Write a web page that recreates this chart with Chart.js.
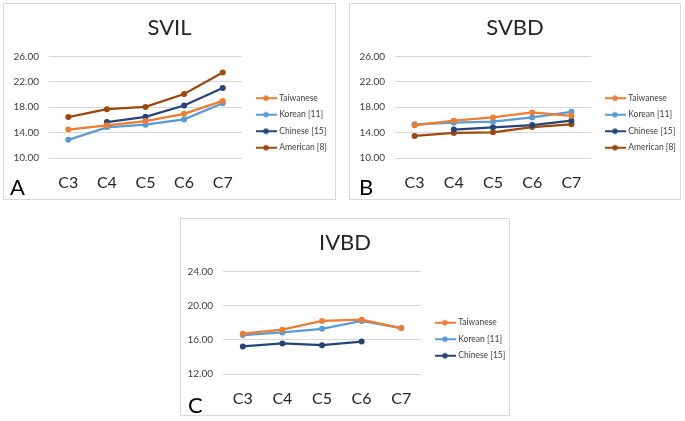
<!DOCTYPE html>
<html>
<head>
<meta charset="utf-8">
<script src="https://cdn.jsdelivr.net/npm/chart.js"></script>
<style>
  body { margin: 0; background: #fff; width: 685px; height: 421px; position: relative; overflow: hidden; }
  .panel { position: absolute; box-sizing: border-box; border: 1px solid #d9d9d9; background: #fff; }
  .panel canvas { display: block; }
  .tag { position: absolute; font-family: Lato, sans-serif; font-size: 22px; line-height: 1; color: #000; }
</style>
</head>
<body>
<div class="panel" style="left:3px;top:3px;width:333px;height:197px;"><canvas id="svil" width="331" height="195"></canvas></div>
<div class="panel" style="left:349px;top:3px;width:332px;height:197px;"><canvas id="svbd" width="330" height="195"></canvas></div>
<div class="panel" style="left:180px;top:218px;width:330px;height:198px;"><canvas id="ivbd" width="328" height="196"></canvas></div>
<span class="tag" style="left:10px;top:176px;">A</span>
<span class="tag" style="left:359px;top:176px;">B</span>
<span class="tag" style="left:188px;top:394px;">C</span>
<script>
// levels along the spine
var categories = ['C3', 'C4', 'C5', 'C6', 'C7'];
var seriesNames = ['Taiwanese', 'Korean [11]', 'Chinese [15]', 'American [8]'];
var seriesColors = ['#ED7D31', '#5B9BD5', '#264478', '#9E480E'];

// SVIL
var svilTaiwanese = [14.47, 15.14, 15.82, 16.96, 18.99];
var svilKorean = [12.86, 14.83, 15.25, 16.08, 18.62];
var svilChinese = [null, 15.66, 16.49, 18.26, 21.01];
var svilAmerican = [16.44, 17.69, 18.05, 20.08, 23.45];

// SVBD
var svbdTaiwanese = [15.14, 15.87, 16.39, 17.17, 16.65];
var svbdKorean = [15.30, 15.56, 15.71, 16.39, 17.27];
var svbdChinese = [null, 14.47, 14.83, 15.19, 15.87];
var svbdAmerican = [13.48, 13.95, 14.05, 14.88, 15.30];

// IVBD
var ivbdTaiwanese = [16.71, 17.18, 18.20, 18.35, 17.37];
var ivbdKorean = [16.55, 16.86, 17.29, 18.20, 17.37];
var ivbdChinese = [15.22, 15.57, 15.37, 15.80, null];

Chart.defaults.font.family = 'Lato, sans-serif';

// legend marker: short line with a dot, like the spreadsheet one
function legendMark(color) {
  var c = document.createElement('canvas');
  c.width = 29; c.height = 8;
  var g = c.getContext('2d');
  g.strokeStyle = color; g.lineWidth = 2;
  g.beginPath(); g.moveTo(8, 4); g.lineTo(29, 4); g.stroke();
  g.fillStyle = color;
  g.beginPath(); g.arc(18, 4, 2.8, 0, Math.PI * 2); g.fill();
  return c;
}
var marks = seriesColors.map(legendMark);

function makeDatasets(values) {
  return values.map(function (v, i) {
    return {
      label: seriesNames[i],
      data: v,
      borderColor: seriesColors[i],
      backgroundColor: seriesColors[i],
      pointBackgroundColor: seriesColors[i],
      pointBorderColor: seriesColors[i],
      pointBorderWidth: 0,
      borderWidth: 2.25,
      pointRadius: 3,
      pointHoverRadius: 3,
      tension: 0
    };
  });
}

function makeChart(id, title, values, yMin, yMax, axisWidth, legendWidth, legendShift) {
  return new Chart(document.getElementById(id), {
    type: 'line',
    data: { labels: categories, datasets: makeDatasets(values) },
    options: {
      responsive: false,
      animation: false,
      layout: { padding: 0 },
      plugins: {
        title: {
          display: true, text: title, color: '#262626',
          font: { size: 22, weight: 'normal' },
          padding: { top: 11, bottom: 15 }
        },
        legend: {
          position: 'right',
          align: 'end',
          labels: {
            color: '#404040', font: { size: 8.5 }, padding: 8,
            usePointStyle: true, pointStyleWidth: 25,
            generateLabels: function (chart) {
              var items = Chart.defaults.plugins.legend.labels.generateLabels(chart);
              items.forEach(function (it) { it.pointStyle = marks[it.datasetIndex]; });
              return items;
            }
          }
        },
        tooltip: { enabled: false }
      },
      scales: {
        x: {
          offset: true,
          afterFit: function (scale) { scale.height = 41; },
          grid: { display: false, drawTicks: false },
          border: { display: false },
          ticks: { color: '#262626', font: { size: 16 }, padding: 15 }
        },
        y: {
          min: yMin, max: yMax,
          afterFit: function (scale) { scale.width = axisWidth; },
          grid: { color: '#d9d9d9', drawTicks: false },
          border: { display: false },
          ticks: {
            stepSize: 4, color: '#404040', font: { size: 10 }, padding: 10,
            callback: function (v) { return v.toFixed(2); }
          }
        }
      }
    },
    plugins: [{
      id: 'legendBox',
      beforeLayout: function (chart) {
        var lg = chart.legend;
        if (lg && !lg._fixedWidth) {
          var fit = lg.fit;
          lg.fit = function () { fit.call(this); this.width = legendWidth; };
          lg._fixedWidth = true;
        }
      },
      afterLayout: function (chart) {
        chart.legend.top += legendShift;
        chart.legend.bottom += legendShift;
      }
    }]
  });
}

makeChart('svil', 'SVIL', [svilTaiwanese, svilKorean, svilChinese, svilAmerican], 10, 26, 45, 93, -39);
makeChart('svbd', 'SVBD', [svbdTaiwanese, svbdKorean, svbdChinese, svbdAmerican], 10, 26, 45, 89, -39);
makeChart('ivbd', 'IVBD', [ivbdTaiwanese, ivbdKorean, ivbdChinese], 12, 24, 42, 88, -47);
</script>
</body>
</html>
